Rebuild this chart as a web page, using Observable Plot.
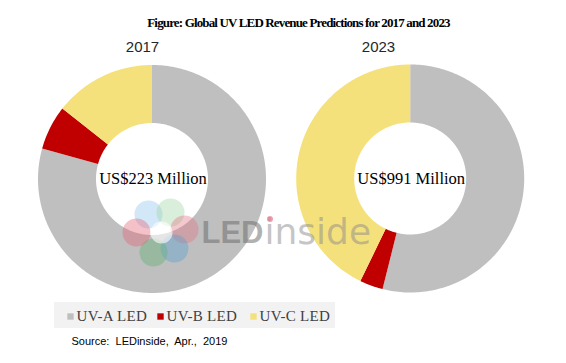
<!DOCTYPE html>
<html><head><meta charset="utf-8">
<script src="https://cdn.jsdelivr.net/npm/d3@7"></script>
<script src="https://cdn.jsdelivr.net/npm/@observablehq/plot@0.6"></script>
<style>
body{margin:0;background:#fff;} #chart svg{display:block;}
</style>
</head><body><div id="chart"></div>
<script>
const title = "Figure: Global UV LED Revenue Predictions for 2017 and 2023";
const years = ["2017", "2023"];
const totalLabels = ["US$223 Million", "US$991 Million"];
const categories = ["UV-A LED", "UV-B LED", "UV-C LED"];
const share2017 = [79.3, 6.3, 14.4];
const share2023 = [53.9, 3.3, 42.8];
const colors = ["#bfbfbf", "#c00000", "#f5e17b"];
const sourceText = "Source:  LEDinside,  Apr.,  2019";
const watermark = ["LED", "inside"];

const W = 566, H = 363;
const centers = [[151.5, 178.5], [409.7, 178]];
const R0 = 56, R1 = 114;
const series = [share2017, share2023];

const pts = [];
series.forEach((vals, i) => {
  const arcs = d3.pie().sort(null).startAngle(0).endAngle(2 * Math.PI)(vals);
  const [cx, cy] = centers[i];
  arcs.forEach((p, j) => {
    const id = years[i] + "-" + j;
    const n = Math.max(2, Math.ceil((p.endAngle - p.startAngle) / 0.02));
    for (let k = 0; k <= n; k++) {
      const a = p.startAngle + (p.endAngle - p.startAngle) * k / n;
      pts.push({id, cat: categories[j], x: cx + R1 * Math.sin(a), y: cy - R1 * Math.cos(a)});
    }
    for (let k = n; k >= 0; k--) {
      const a = p.startAngle + (p.endAngle - p.startAngle) * k / n;
      pts.push({id, cat: categories[j], x: cx + R0 * Math.sin(a), y: cy - R0 * Math.cos(a)});
    }
  });
});

const yearLabels = years.map((y, i) => ({t: y, x: [142, 378][i], y: 47}));
const centerLabels = totalLabels.map((t, i) => ({t, x: centers[i][0] + 1, y: centers[i][1]}));

const legendItems = categories.map((c, i) => ({cat: c, sx: [70, 160, 253][i], tx: [76, 166, 259][i]}));

const petals = [
  {x: 148, y: 214, c: "#8fc3ea"},
  {x: 170, y: 212, c: "#9fd6a8"},
  {x: 184, y: 229, c: "#e07585"},
  {x: 174, y: 248, c: "#5b9fd3"},
  {x: 153, y: 252, c: "#5fb274"},
  {x: 136, y: 232, c: "#e66478"}
];

const plot = Plot.plot({
  width: W, height: H, margin: 0,
  x: {domain: [0, W], range: [0, W], axis: null},
  y: {domain: [0, H], range: [0, H], axis: null},
  color: {domain: categories, range: colors},
  style: {background: "white", overflow: "visible"},
  marks: [
    Plot.line(pts, {x: "x", y: "y", z: "id", fill: "cat", stroke: "none", curve: "linear"}),
    // watermark logo
    ...petals.map(p => Plot.dot([p], {x: "x", y: "y", r: 14, fill: p.c, fillOpacity: 0.4, stroke: "none"})),
    Plot.dot([{x: 161, y: 232}], {x: "x", y: "y", r: 11, fill: "white", fillOpacity: 0.6, stroke: "none"}),
    Plot.text([watermark[0]], {x: 201, y: 233, text: d => d, textAnchor: "start", fontSize: 31, fontFamily: "Liberation Sans", fontWeight: "bold", fill: "#6e6e6e", fillOpacity: 0.55}),
    Plot.text([watermark[1]], {x: 264, y: 231.5, text: d => d, textAnchor: "start", fontSize: 36, fontFamily: "DejaVu Sans", fill: "#8c8c8c", fillOpacity: 0.5}),
    Plot.dot([{x: 269.5, y: 218.5}], {x: "x", y: "y", r: 3, fill: "#e87a8c", fillOpacity: 0.7, stroke: "none"}),
    // title
    Plot.text([title], {x: 298, y: 22, text: d => d, fontSize: 13, fontFamily: "Liberation Serif", fontWeight: "bold", fill: "black"}),
    Plot.text(yearLabels, {x: "x", y: "y", text: "t", fontSize: 15, fontFamily: "Liberation Sans", fill: "#262626"}),
    Plot.text(centerLabels, {x: "x", y: "y", text: "t", fontSize: 16.5, fontFamily: "Liberation Serif", fill: "black"}),
    // legend
    Plot.rect([0], {x1: 54, x2: 335, y1: 302, y2: 328, fill: "#f2f2f2"}),
    Plot.dot(legendItems, {x: "sx", y: 316, symbol: "square", r: 3.6, fill: "cat", stroke: "none"}),
    Plot.text(legendItems, {x: "tx", y: 316, text: "cat", textAnchor: "start", fontSize: 15, fontFamily: "Liberation Serif", fill: "#404040"}),
    Plot.text([sourceText], {x: 71, y: 341, text: d => d, textAnchor: "start", fontSize: 11, fontFamily: "Liberation Sans", fill: "black"})
  ]
});
d3.select(plot).selectAll("text")
  .filter(function () { return this.textContent === title; })
  .attr("letter-spacing", "-0.85")
  .style("letter-spacing", "-0.85px");
d3.select(plot).selectAll("text")
  .filter(function () { return categories.includes(this.textContent); })
  .attr("letter-spacing", "0.3")
  .style("letter-spacing", "0.3px");
document.getElementById("chart").append(plot);
</script>
</body></html>
